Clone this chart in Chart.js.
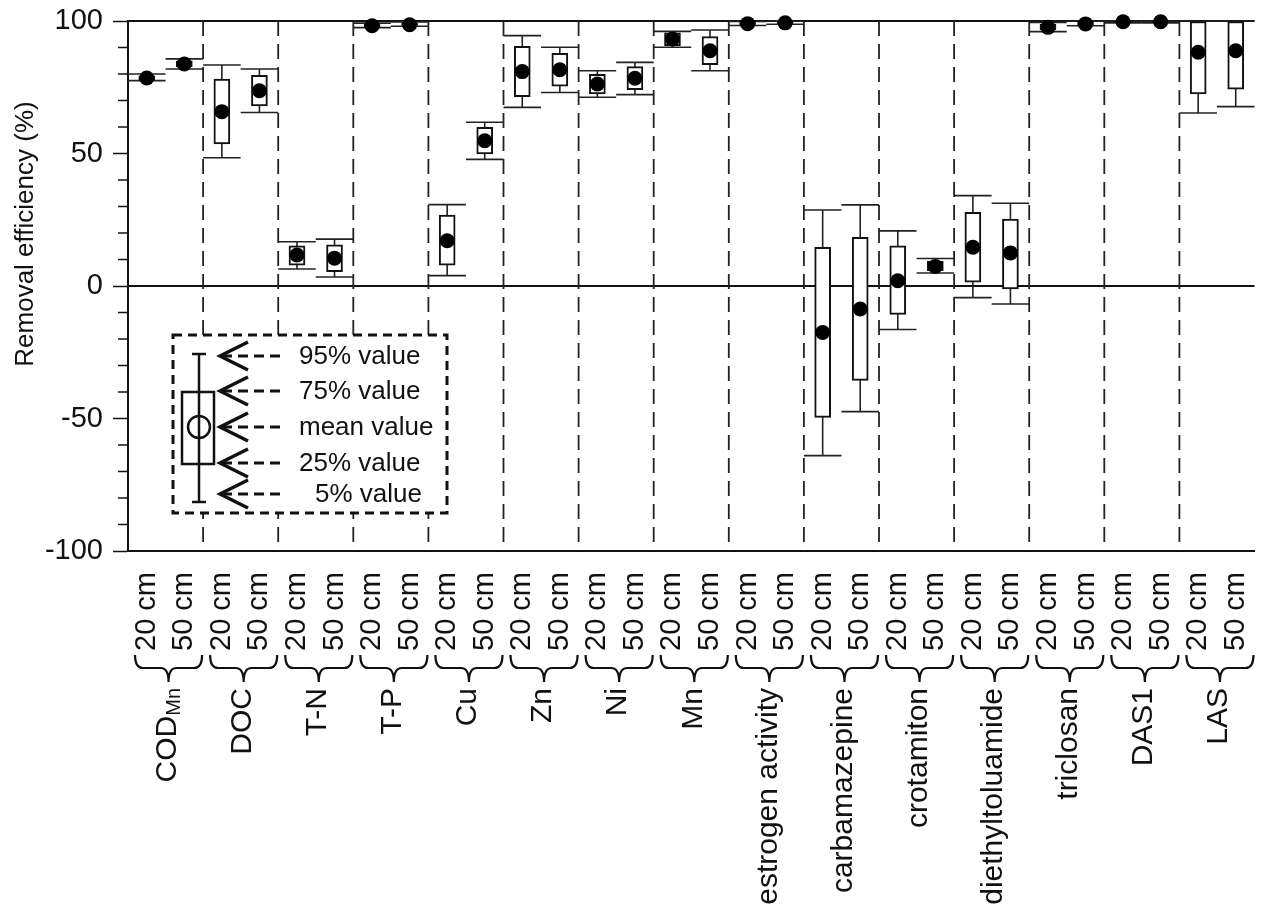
<!DOCTYPE html>
<html>
<head>
<meta charset="utf-8">
<script src="https://cdn.jsdelivr.net/npm/chart.js@4.4.1/dist/chart.umd.min.js"></script>
<style>
  html, body { margin: 0; padding: 0; background: #fff; }
  #wrap { width: 1262px; height: 916px; }
</style>
</head>
<body>
<div id="wrap"><canvas id="myChart"></canvas></div>
<script>
// groups (parameters) and the two depths for each
const groups = ['COD', 'DOC', 'T-N', 'T-P', 'Cu', 'Zn', 'Ni', 'Mn', 'estrogen activity',
  'carbamazepine', 'crotamiton', 'diethyltoluamide', 'triclosan', 'DAS1', 'LAS'];
const depths = ['20 cm', '50 cm'];
const categories = groups.flatMap(() => depths);

// removal efficiency (%), 20 cm / 50 cm for each group
const p95 = [80.0, 85.7, 83.4, 81.9, 16.7, 17.7, 99.2, 99.6, 30.7, 61.8, 94.5, 90.1, 81.2, 84.4, 96.1, 96.6,
  99.8, 100, 28.7, 30.6, 20.8, 10.4, 34.1, 31.2, 99.5, 100, 100, 100, 100, 100];
const p75 = [79.3, 85.0, 78.1, 79.5, 15.2, 15.5, 98.8, 99.2, 26.8, 59.9, 90.4, 87.8, 79.9, 82.8, 95.5, 94.1,
  99.5, 99.8, 14.6, 18.4, 15.2, 9.3, 27.8, 25.3, 98.8, 99.6, 100, 100, 99.8, 99.8];
const meanVals = [78.5, 83.8, 65.8, 73.7, 11.7, 10.5, 98.2, 98.6, 17.1, 54.8, 80.9, 81.6, 76.2, 78.4, 93.2, 88.8,
  99.0, 99.3, -17.5, -8.7, 2.0, 7.4, 14.6, 12.5, 97.6, 98.9, 99.7, 99.7, 88.2, 88.8];
const p25 = [77.8, 82.8, 53.6, 68.0, 7.9, 5.4, 97.8, 98.3, 7.9, 49.8, 71.4, 75.4, 72.5, 74.1, 90.7, 83.5,
  98.6, 99.0, -49.6, -35.6, -10.7, 5.8, 1.4, -1.1, 96.6, 98.5, 99.5, 99.5, 72.5, 74.3];
const p5 = [77.5, 81.9, 48.4, 65.5, 6.4, 3.4, 97.5, 98.0, 3.9, 47.8, 67.4, 73.0, 71.2, 72.2, 90.1, 81.2,
  98.3, 98.8, -64.0, -47.4, -16.4, 4.9, -4.4, -6.8, 96.0, 98.2, 99.3, 99.3, 65.3, 67.7];

const yTicks = [-100, -50, 0, 50, 100];
const legendRows = ['95% value', '75% value', 'mean value', '25% value', '5% value'];

const FONT = '"Liberation Sans", Arial, sans-serif';
const INK = '#111';

function line(ctx, x1, y1, x2, y2) {
  ctx.beginPath();
  ctx.moveTo(x1, y1);
  ctx.lineTo(x2, y2);
  ctx.stroke();
}

// horizontal curly brace pointing down
function brace(ctx, x1, x2, yTop) {
  const xm = (x1 + x2) / 2, y1 = yTop + 13, y2 = yTop + 27, r = 8;
  ctx.beginPath();
  ctx.moveTo(x1, yTop);
  ctx.quadraticCurveTo(x1, y1, x1 + r, y1);
  ctx.lineTo(xm - r, y1);
  ctx.quadraticCurveTo(xm, y1, xm, y2);
  ctx.quadraticCurveTo(xm, y1, xm + r, y1);
  ctx.lineTo(x2 - r, y1);
  ctx.quadraticCurveTo(x2, y1, x2, yTop);
  ctx.stroke();
}

const extras = {
  id: 'extras',
  beforeDatasetsDraw(chart) {
    const { ctx, chartArea: a, scales: { x, y } } = chart;
    const step = x.getPixelForValue(1) - x.getPixelForValue(0);
    ctx.save();

    // zero line + top frame
    ctx.strokeStyle = INK;
    ctx.lineWidth = 2;
    line(ctx, a.left, y.getPixelForValue(0), a.right, y.getPixelForValue(0));
    line(ctx, a.left, a.top, a.right, a.top);

    // minor ticks every 10
    ctx.lineWidth = 1.5;
    for (let v = -100; v <= 100; v += 10) {
      if (v % 50 !== 0) line(ctx, a.left - 10, y.getPixelForValue(v), a.left, y.getPixelForValue(v));
    }

    // dashed separators between groups
    ctx.strokeStyle = '#222';
    ctx.lineWidth = 1.8;
    ctx.setLineDash([15, 8]);
    for (let g = 1; g < groups.length; g++) {
      const xb = (x.getPixelForValue(2 * g - 1) + x.getPixelForValue(2 * g)) / 2;
      line(ctx, xb, a.top, xb, a.bottom);
    }
    ctx.setLineDash([]);

    // whiskers with caps (5% - 95%)
    ctx.strokeStyle = '#222';
    ctx.lineWidth = 1.6;
    p95.forEach((hi, i) => {
      const cx = x.getPixelForValue(i);
      const yh = y.getPixelForValue(hi), yl = y.getPixelForValue(p5[i]);
      line(ctx, cx, yh, cx, yl);
      line(ctx, cx - step / 2, yh, cx + step / 2, yh);
      line(ctx, cx - step / 2, yl, cx + step / 2, yl);
    });
    ctx.restore();
  },
  afterDraw(chart) {
    const { ctx, chartArea: a, scales: { x } } = chart;
    ctx.save();
    ctx.fillStyle = INK;
    ctx.strokeStyle = INK;

    // braces and group names under the depth labels
    groups.forEach((name, g) => {
      const xs = (x.getPixelForValue(2 * g) + x.getPixelForValue(2 * g - 1)) / 2;
      const xe = (x.getPixelForValue(2 * g + 1) + x.getPixelForValue(2 * g + 2)) / 2;
      ctx.lineWidth = 2.2;
      brace(ctx, xs + 7, xe - 1, a.bottom + 104);

      const cx = (xs + xe) / 2 + 2;
      ctx.save();
      ctx.translate(cx, a.bottom + 137);
      ctx.rotate(-Math.PI / 2);
      ctx.textAlign = 'right';
      ctx.textBaseline = 'middle';
      if (name === 'COD') {
        ctx.font = '20px ' + FONT;
        const w = ctx.measureText('Mn').width;
        ctx.fillText('Mn', 0, 7);
        ctx.font = '30px ' + FONT;
        ctx.fillText('COD', -w, 0);
      } else {
        ctx.font = '30px ' + FONT;
        ctx.fillText(name, 0, 0);
      }
      ctx.restore();
    });

    // y axis title
    ctx.save();
    ctx.translate(26, 234);
    ctx.rotate(-Math.PI / 2);
    ctx.font = '26px ' + FONT;
    ctx.textAlign = 'center';
    ctx.textBaseline = 'middle';
    ctx.fillText('Removal efficiency (%)', 0, 0);
    ctx.restore();

    // explanation box
    const lx = a.left + 45, ly = a.top + 314;
    ctx.fillStyle = '#fff';
    ctx.fillRect(lx, ly, 274, 178);
    ctx.lineWidth = 3;
    ctx.setLineDash([9, 6]);
    ctx.strokeRect(lx, ly, 274, 178);
    ctx.setLineDash([]);

    const wx = lx + 26;
    ctx.lineWidth = 2.5;
    line(ctx, wx, ly + 19, wx, ly + 167);
    line(ctx, wx - 7, ly + 19, wx + 7, ly + 19);
    line(ctx, wx - 7, ly + 167, wx + 7, ly + 167);
    ctx.strokeRect(lx + 9, ly + 57, 32, 72);
    ctx.beginPath();
    ctx.arc(wx, ly + 92, 11, 0, Math.PI * 2);
    ctx.stroke();

    const rowY = [21, 56, 92, 128, 159];
    ctx.fillStyle = INK;
    ctx.font = '26px ' + FONT;
    ctx.textAlign = 'left';
    ctx.textBaseline = 'middle';
    rowY.forEach((dy, k) => {
      const ry = ly + dy, tip = lx + 47;
      ctx.lineWidth = 3.5;
      ctx.beginPath();
      ctx.moveTo(tip + 28, ry - 14);
      ctx.lineTo(tip, ry);
      ctx.lineTo(tip + 28, ry + 14);
      ctx.stroke();
      ctx.lineWidth = 3;
      ctx.setLineDash([10, 6]);
      line(ctx, tip + 2, ry, tip + 64, ry);
      ctx.setLineDash([]);
      ctx.fillText(legendRows[k], lx + (k === 4 ? 142 : 126), ry + 1);
    });
    ctx.restore();
  }
};

const ctx = document.getElementById('myChart').getContext('2d');
const myChart = new Chart(ctx, {
  data: {
    labels: categories,
    datasets: [{
      type: 'line',
      label: 'mean',
      data: meanVals,
      showLine: false,
      pointRadius: 7.5,
      pointBackgroundColor: '#000',
      pointBorderWidth: 0,
      clip: false,
      order: 0
    }, {
      type: 'bar',
      label: '25-75%',
      data: p25.map((v, i) => [v, p75[i]]),
      backgroundColor: '#fff',
      borderColor: INK,
      borderWidth: 2,
      borderSkipped: false,
      barThickness: 16,
      order: 1
    }]
  },
  options: {
    responsive: true,
    maintainAspectRatio: false,
    animation: false,
    layout: { padding: { top: 21, right: 0, left: 0, bottom: 0 } },
    plugins: { legend: { display: false }, tooltip: { enabled: false } },
    scales: {
      x: {
        type: 'category',
        offset: true,
        grid: { display: false },
        border: { color: INK, width: 2 },
        ticks: {
          autoSkip: false,
          maxRotation: 90,
          minRotation: 90,
          padding: 13,
          color: INK,
          font: { family: FONT, size: 29 }
        },
        afterFit(s) {
          s.height = 365;
          s.paddingLeft = 0;
          s.paddingRight = 0;
        }
      },
      y: {
        min: -100,
        max: 100,
        afterBuildTicks(s) { s.ticks = yTicks.map(v => ({ value: v })); },
        ticks: { color: INK, padding: 10, font: { family: FONT, size: 29 } },
        grid: { drawOnChartArea: false, tickLength: 15, tickColor: INK, tickWidth: 1.5 },
        border: { color: INK, width: 2 },
        afterFit(s) {
          s.width = 128;
          s.paddingTop = 0;
          s.paddingBottom = 0;
        }
      }
    }
  },
  plugins: [extras]
});
</script>
</body>
</html>
